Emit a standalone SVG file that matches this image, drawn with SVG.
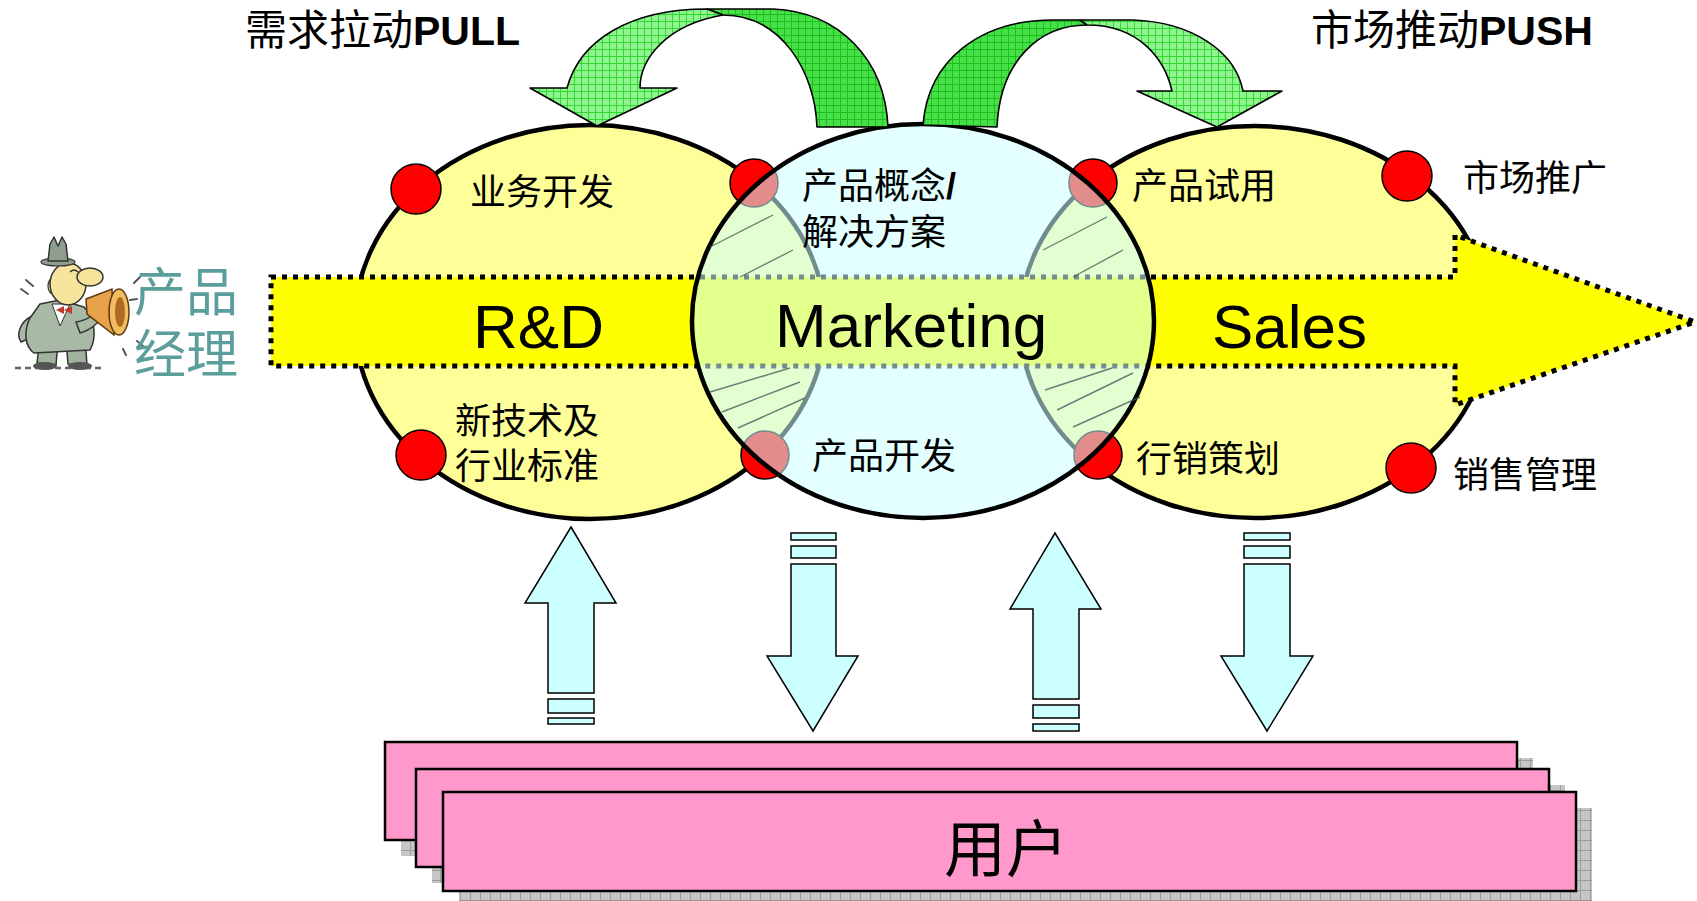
<svg xmlns="http://www.w3.org/2000/svg" width="1697" height="901" viewBox="0 0 1697 901">
  <defs>
    <pattern id="gridLight" width="7" height="7" patternUnits="userSpaceOnUse">
      <rect width="7" height="7" fill="#90F590"/>
      <path d="M0 0.5H7M0.5 0V7" stroke="#30D830" stroke-width="1"/>
    </pattern>
    <pattern id="gridDark" width="7" height="7" patternUnits="userSpaceOnUse">
      <rect width="7" height="7" fill="#48E048"/>
      <path d="M0 0.5H7M0.5 0V7" stroke="#1CC01C" stroke-width="1"/>
    </pattern>
    <pattern id="shadowGrid" width="10" height="10" patternUnits="userSpaceOnUse">
      <rect width="10" height="10" fill="#C6C6C6"/>
      <path d="M0 0.5H10M0.5 0V10" stroke="#9C9C9C" stroke-width="1"/>
    </pattern>
  </defs>
  <style>
    .oval { stroke: #000; stroke-width: 4.5; }
    .dot { fill: #FF0000; stroke: #000; stroke-width: 1.5; }
    .lbl { font-family: "Noto Sans CJK SC", sans-serif; font-size: 36px; fill: #000; }
    .big { font-family: "Liberation Sans", Arial, sans-serif; font-size: 62px; fill: #000; }
    .title { font-family: "Noto Sans CJK SC", sans-serif; font-size: 42px; fill: #000; }
    .latinBold { font-family: "Liberation Sans", Arial, sans-serif; font-weight: bold; font-size: 41px; }
    .vArrow { fill: #CCFFFF; stroke: #000; stroke-width: 1.5; }
    .user { fill: #FF99CC; stroke: #000; stroke-width: 2.5; }
    .shadow { fill: url(#shadowGrid); }
    .hatch { stroke: #3F5656; stroke-width: 1.4; opacity: 0.75; }
    .green { stroke: #000; stroke-width: 1.6; stroke-linejoin: round; }
    .ink { stroke: #333; stroke-width: 1.5; stroke-linejoin: round; }
  </style>

  <!-- product manager figure with megaphone -->
  <g id="manager">
    <line x1="15" y1="368" x2="102" y2="368" stroke="#666" stroke-width="2.5" stroke-dasharray="6 4"/>
    <path class="ink" d="M40 338 L37 363 L56 365 L58 341 Z" fill="#9FB39C"/>
    <path class="ink" d="M66 339 L68 364 L87 365 L85 338 Z" fill="#9FB39C"/>
    <ellipse cx="45" cy="366" rx="12" ry="4" fill="#555"/>
    <ellipse cx="80" cy="366" rx="12" ry="4" fill="#555"/>
    <path class="ink" d="M32 316 C20 322 16 334 21 342 L30 338 C28 330 32 323 39 320 Z" fill="#A8B9A5"/>
    <path class="ink" d="M30 318 C24 330 24 346 34 353 L90 350 C97 338 95 318 84 307 L60 300 L40 304 Z" fill="#A8B9A5"/>
    <path d="M52 304 L60 326 L70 304 Z" fill="#fff" stroke="#333" stroke-width="1"/>
    <path d="M56 310 L64 306 L64 314 Z M64 310 L72 306 L72 314 Z" fill="#C0392B"/>
    <path class="ink" d="M76 322 C88 320 96 314 100 305 L106 311 C100 322 91 330 80 333 Z" fill="#A8B9A5"/>
    <ellipse cx="53" cy="286" rx="5" ry="8" fill="#F6E49C" stroke="#333" stroke-width="1.2"/>
    <ellipse cx="68" cy="284" rx="18" ry="21" fill="#F6E49C" stroke="#333" stroke-width="1.5"/>
    <ellipse cx="90" cy="277" rx="13" ry="9" fill="#F6E49C" stroke="#333" stroke-width="1.5"/>
    <path d="M70 272 Q74 268 78 272" fill="none" stroke="#333" stroke-width="1.3"/>
    <ellipse cx="58" cy="262" rx="17" ry="4" fill="#8E9E8C" stroke="#333" stroke-width="1.2"/>
    <path class="ink" d="M48 261 L50 244 L54 237 L58 246 L62 237 L66 244 L68 261 Z" fill="#8E9E8C"/>
    <path d="M86 299 L112 289 L114 335 L87 314 Z" fill="#E7A24A" stroke="#5A3A10" stroke-width="1.5"/>
    <ellipse cx="119" cy="312" rx="10" ry="23" fill="#F2BC62" stroke="#5A3A10" stroke-width="1.5"/>
    <ellipse cx="120" cy="312" rx="5" ry="15" fill="#B06A20"/>
    <path d="M21 289 L28 294 M26 280 L33 286 M134 283 L140 277 M137 341 L143 346 M123 349 L126 355 M130 300 L137 299"
          stroke="#555" stroke-width="2" stroke-linecap="round"/>
  </g>

  <g id="manager-label">
    <text font-family="'Noto Sans CJK SC', sans-serif" font-size="52" fill="#5B9E9B"><tspan x="134" y="311">产品</tspan><tspan x="134" y="373">经理</tspan></text>
  </g>

  <!-- headings -->
  <g id="pull-title">
    <text class="title" x="245" y="45">需求拉动<tspan class="latinBold">PULL</tspan></text>
  </g>
  <g id="push-title">
    <text class="title" x="1311" y="45">市场推动<tspan class="latinBold">PUSH</tspan></text>
  </g>

  <!-- outer stage ovals -->
  <g id="rd-oval">
    <ellipse class="oval" cx="590" cy="322" rx="235" ry="197" fill="#FFFF99"/>
  </g>
  <g id="sales-oval">
    <ellipse class="oval" cx="1255" cy="322" rx="235" ry="196" fill="#FFFF99"/>
  </g>

  <!-- activity points -->
  <g id="points">
    <circle class="dot" cx="416" cy="189" r="25"/>
    <circle class="dot" cx="421" cy="455" r="25"/>
    <circle class="dot" cx="754" cy="183" r="24"/>
    <circle class="dot" cx="765" cy="455" r="24"/>
    <circle class="dot" cx="1093" cy="183" r="24"/>
    <circle class="dot" cx="1098" cy="455" r="24"/>
    <circle class="dot" cx="1407" cy="176" r="25"/>
    <circle class="dot" cx="1411" cy="468" r="25"/>
  </g>

  <!-- main flow band -->
  <g id="flow-band">
    <path d="M271 277 H1455 V235 L1695 322 L1455 405 V366 H271 Z" fill="#FFFF00"
          stroke="#000" stroke-width="5" stroke-dasharray="5 6"/>
  </g>

  <!-- centre oval, translucent over its neighbours -->
  <g id="marketing-oval">
    <ellipse cx="923" cy="321" rx="231" ry="197" fill="#CCFFFF" fill-opacity="0.55" stroke="#000" stroke-width="4.5"/>
    <g class="hatch">
      <line x1="710" y1="247" x2="773" y2="215"/>
      <line x1="740" y1="277" x2="793" y2="250"/>
      <line x1="710" y1="392" x2="790" y2="368"/>
      <line x1="722" y1="412" x2="800" y2="382"/>
      <line x1="738" y1="428" x2="805" y2="398"/>
      <line x1="1043" y1="250" x2="1107" y2="217"/>
      <line x1="1073" y1="277" x2="1123" y2="250"/>
      <line x1="1045" y1="390" x2="1112" y2="368"/>
      <line x1="1057" y1="410" x2="1133" y2="373"/>
      <line x1="1073" y1="427" x2="1140" y2="397"/>
    </g>
  </g>

  <!-- stage titles -->
  <g id="stage-titles">
    <text class="big" x="473" y="348">R&amp;D</text>
    <text class="big" x="775" y="347">Marketing</text>
    <text class="big" x="1212" y="348">Sales</text>
  </g>

  <!-- activity labels -->
  <g id="labels">
    <text class="lbl" x="470" y="205">业务开发</text>
    <text class="lbl"><tspan x="455" y="434">新技术及</tspan><tspan x="455" y="479">行业标准</tspan></text>
    <text class="lbl"><tspan x="802" y="199">产品概念<tspan font-family="'Liberation Sans', Arial, sans-serif" font-weight="bold">/</tspan></tspan><tspan x="802" y="245">解决方案</tspan></text>
    <text class="lbl" x="812" y="469">产品开发</text>
    <text class="lbl" x="1132" y="199">产品试用</text>
    <text class="lbl" x="1136" y="472">行销策划</text>
    <text class="lbl" x="1463" y="191">市场推广</text>
    <text class="lbl" x="1453" y="488">销售管理</text>
  </g>

  <!-- user layers -->
  <g id="users">
    <rect class="shadow" x="401" y="758" width="1132" height="98"/>
    <rect class="user" x="385" y="742" width="1132" height="98"/>
    <rect class="shadow" x="432" y="785" width="1133" height="98"/>
    <rect class="user" x="416" y="769" width="1133" height="98"/>
    <rect class="shadow" x="459" y="808" width="1133" height="99"/>
    <rect class="user" x="443" y="792" width="1133" height="99"/>
    <text x="1006" y="872" text-anchor="middle" font-family="'Noto Sans CJK SC', sans-serif" font-size="62" fill="#000">用户</text>
  </g>

  <g id="connectors">
    <!-- pull: marketing back to R&D -->
    <path class="green" fill="url(#gridDark)" d="M707 9 L773 9 C840 12 885 60 888 127 L817 127 C815 70 780 15 723 15 Z"/>
    <path class="green" fill="url(#gridLight)" d="M530 88 L567 88 C580 40 630 9 707 9 L723 15 C665 25 640 60 640 88 L677 88 L597 126 Z"/>
    <!-- push: marketing on to sales -->
    <path class="green" fill="url(#gridDark)" d="M923 125 C928 60 980 20 1053 20 L1080 20 L1087 25 C1040 25 1000 60 997 127 Z"/>
    <path class="green" fill="url(#gridLight)" d="M1080 20 L1133 20 C1190 22 1235 50 1243 91 L1282 91 L1217 127 L1137 91 L1172 91 C1165 60 1140 25 1087 25 Z"/>

    <!-- exchanges with users -->
    <path class="vArrow" d="M571 527 L616 603 L594 603 L594 693 L548 693 L548 603 L525 603 Z"/>
    <rect class="vArrow" x="548" y="699" width="46" height="14"/>
    <rect class="vArrow" x="548" y="718" width="46" height="6"/>

    <rect class="vArrow" x="791" y="533" width="45" height="7"/>
    <rect class="vArrow" x="791" y="546" width="45" height="12"/>
    <path class="vArrow" d="M791 564 L836 564 L836 656 L858 656 L813 731 L767 656 L791 656 Z"/>

    <path class="vArrow" d="M1055 533 L1101 609 L1079 609 L1079 699 L1033 699 L1033 609 L1010 609 Z"/>
    <rect class="vArrow" x="1033" y="705" width="46" height="13"/>
    <rect class="vArrow" x="1033" y="724" width="46" height="7"/>

    <rect class="vArrow" x="1244" y="533" width="46" height="7"/>
    <rect class="vArrow" x="1244" y="546" width="46" height="12"/>
    <path class="vArrow" d="M1244 564 L1290 564 L1290 656 L1313 656 L1267 731 L1221 656 L1244 656 Z"/>
  </g>
</svg>
